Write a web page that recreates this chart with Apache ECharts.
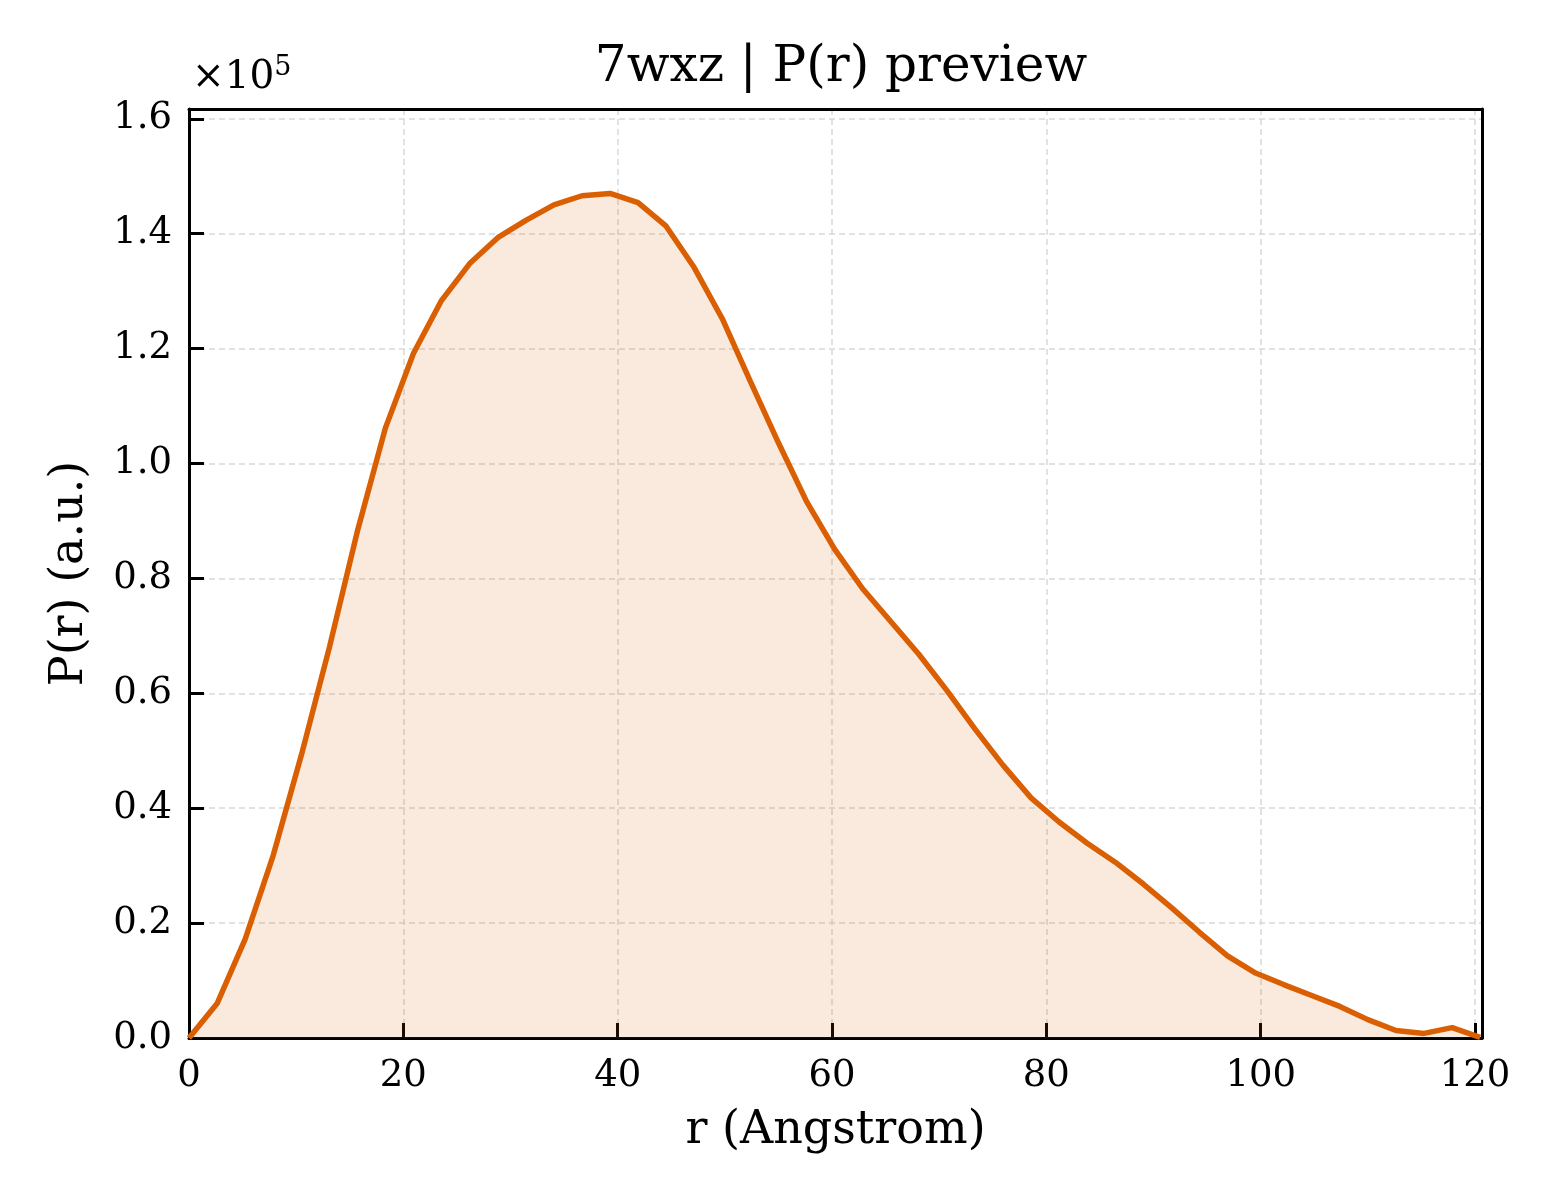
<!DOCTYPE html>
<html>
<head>
<meta charset="utf-8">
<script src="https://cdn.jsdelivr.net/npm/echarts@6/dist/echarts.min.js"></script>
<style>
  html, body { margin: 0; padding: 0; background: #fff; }
  #chart { width: 1560px; height: 1200px; }
</style>
</head>
<body>
<div id="chart"></div>
<script>
// r 值 (Angstrom)
var rValues = [0, 2.62, 5.24, 7.86, 10.48, 13.10, 15.71, 18.33, 20.95, 23.57,
  26.19, 28.81, 31.43, 34.05, 36.67, 39.29, 41.90, 44.52, 47.14, 49.76,
  52.38, 55.00, 57.62, 60.24, 62.86, 65.48, 68.10, 70.71, 73.33, 75.95,
  78.57, 81.19, 83.81, 86.43, 89.05, 91.67, 94.29, 96.90, 99.52, 102.14,
  104.76, 107.38, 110.00, 112.62, 115.24, 117.86, 120.48];

// P(r) 值 (a.u.)
var prValues = [0, 6000, 17200, 31800, 49200, 68000, 88200, 106200, 119200, 128400,
  134800, 139300, 142300, 145000, 146600, 147000, 145400, 141300, 134100, 125200,
  114300, 103600, 93400, 85100, 78200, 72500, 66800, 60500, 53800, 47500,
  41800, 37600, 33900, 30600, 26800, 22700, 18400, 14300, 11300, 9300,
  7400, 5500, 3200, 1300, 800, 1800, 100];

// 刻度
var xTicks = [0, 20, 40, 60, 80, 100, 120];
var yTicks = [0, 20000, 40000, 60000, 80000, 100000, 120000, 140000, 160000];

var lineColor = '#d95f02';
var fontFamily = '"DejaVu Serif", "Liberation Serif", serif';
var xMax = 120.65, yMax = 161700;

var chart = echarts.init(document.getElementById('chart'));

var points = rValues.map(function (r, i) { return [r, prValues[i]]; });

// 上边和右边的框线
var frameAxis = {
  type: 'value',
  axisLine: { show: true, onZero: false, lineStyle: { color: '#000', width: 3 } },
  axisTick: { show: false },
  axisLabel: { show: false },
  splitLine: { show: false }
};

var option = {
  animation: false,
  backgroundColor: '#ffffff',
  title: {
    text: '7wxz | P(r) preview',
    left: 836, top: 38,
    textAlign: 'center',
    textStyle: { fontFamily: fontFamily, fontSize: 50, fontWeight: 'normal', color: '#000' }
  },
  grid: {
    left: 189, top: 109, width: 1293, height: 929
  },
  xAxis: [{
    type: 'value',
    min: 0, max: xMax, interval: 20,
    name: 'r (Angstrom)',
    nameLocation: 'middle', nameGap: 70,
    nameTextStyle: { fontFamily: fontFamily, fontSize: 46, color: '#000' },
    axisLine: { show: true, lineStyle: { color: '#000', width: 3 } },
    axisTick: { show: true, inside: true, length: 15, lineStyle: { color: '#000', width: 3 } },
    axisLabel: {
      fontFamily: fontFamily, fontSize: 37, color: '#000', margin: 20,
      formatter: function (v) { return xTicks.indexOf(v) >= 0 ? String(v) : ''; }
    },
    splitLine: { show: true, showMaxLine: false, lineStyle: { color: '#d9d9d9', width: 1.5, type: [6, 4] } }
  }, Object.assign({ position: 'top', min: 0, max: xMax }, frameAxis)],
  yAxis: [{
    type: 'value',
    min: 0, max: yMax, interval: 20000,
    name: 'P(r) (a.u.)',
    nameLocation: 'middle', nameGap: 96,
    nameTextStyle: { fontFamily: fontFamily, fontSize: 46, color: '#000' },
    axisLine: { show: true, lineStyle: { color: '#000', width: 3 } },
    axisTick: { show: true, inside: true, length: 15, lineStyle: { color: '#000', width: 3 } },
    axisLabel: {
      fontFamily: fontFamily, fontSize: 37, color: '#000', margin: 17,
      formatter: function (v) { return yTicks.indexOf(v) >= 0 ? (v / 1e5).toFixed(1) : ''; }
    },
    splitLine: { show: true, showMaxLine: false, lineStyle: { color: '#d9d9d9', width: 1.5, type: [6, 4] } }
  }, Object.assign({ position: 'right', min: 0, max: yMax }, frameAxis)],
  graphic: [{
    type: 'text',
    left: 192, top: 54,
    style: {
      text: '{b|×10}{s|5}',
      rich: {
        b: { fontFamily: fontFamily, fontSize: 39, fill: '#000', verticalAlign: 'bottom' },
        s: { fontFamily: fontFamily, fontSize: 27, fill: '#000', verticalAlign: 'top', padding: [0, 0, 16, 0] }
      }
    }
  }],
  series: [{
    type: 'line',
    data: points,
    symbol: 'none',
    lineStyle: { color: lineColor, width: 5.5 },
    areaStyle: { color: lineColor, opacity: 0.13 },
    z: 3
  }]
};

chart.setOption(option);
</script>
</body>
</html>
